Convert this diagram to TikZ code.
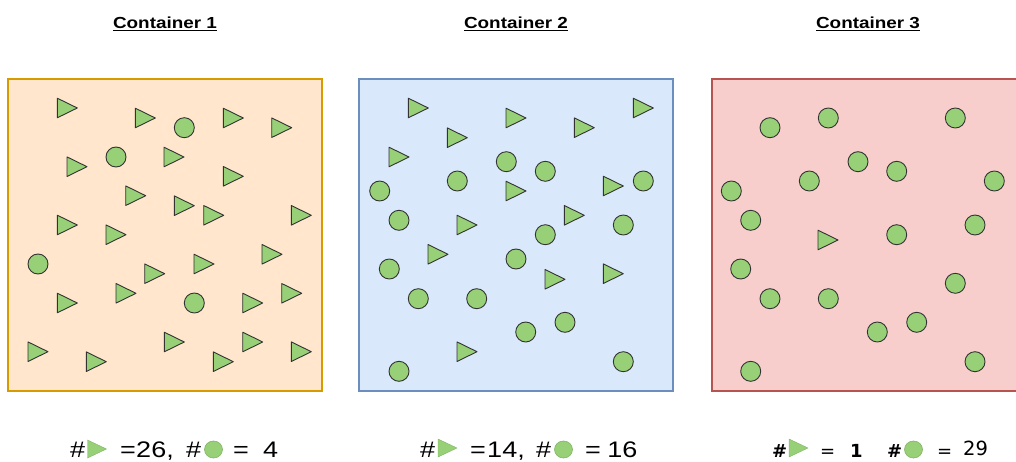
\documentclass[tikz,border=0pt]{standalone}
\usepackage{fontspec}
\usetikzlibrary{shapes.geometric}
\setmainfont{Liberation Sans}
\newfontfamily\dvsans{DejaVu Sans}
\definecolor{orfill}{HTML}{FFE6CC}
\definecolor{ordraw}{HTML}{D79B00}
\definecolor{blfill}{HTML}{DAE8FC}
\definecolor{bldraw}{HTML}{6C8EBF}
\definecolor{rdfill}{HTML}{F8CECC}
\definecolor{rddraw}{HTML}{B85450}
\definecolor{token}{HTML}{97D077}
\definecolor{tokenline}{HTML}{82B366}
\begin{document}
\begin{tikzpicture}[x=1pt,y=-1pt,
  container/.style={line width=1.3pt},
  ball/.style={circle, draw=black!80, line width=0.9pt, fill=token,
    minimum size=20pt, inner sep=0pt},
  tri/.pic={\path[draw=black!80, line width=0.9pt, fill=token, line join=round]
    (-10,-9.8) -- (10,0) -- (-10,9.8) -- cycle;},
  title/.style={font=\bfseries\fontsize{16}{18}\selectfont, anchor=base, xscale=1.18},
  lab/.style={font=\fontsize{22.5}{24}\selectfont, anchor=base west, inner sep=0pt, xscale=1.2},
  labc/.style={font=\dvsans\fontsize{18}{20}\selectfont, anchor=base west, inner sep=0pt},
  icontri/.pic={\path[fill=token, draw=tokenline, line width=0.4pt]
    (-9.5,-9) -- (9.5,0) -- (-9.5,9) -- cycle;},
  iconball/.style={ellipse, fill=token, draw=tokenline, line width=0.6pt,
    minimum width=18pt, minimum height=17pt, inner sep=0pt}
]
\useasboundingbox (0,0) rectangle (1016,462);

% containers
\begin{scope}
  \clip (0,0) rectangle (1016,462);
  \draw[container, fill=orfill, draw=ordraw] (8,79) rectangle (322,391);
  \draw[container, fill=blfill, draw=bldraw] (359,79) rectangle (673,391);
  \draw[container, fill=rdfill, draw=rddraw] (712,79) rectangle (1026,391);
\end{scope}

% titles
\node[title] (title1) at (165,28.3) {\underline{Container 1}};
\node[title] (title2) at (516,28.3) {\underline{Container 2}};
\node[title] (title3) at (868,28.3) {\underline{Container 3}};

% container 1 contents
\foreach \x/\y [count=\i] in {
  67.3/108, 145.3/118, 233.3/118, 281.7/127.7, 77/166.7, 174/157,
  233.3/176.3, 135.7/195.7, 184.3/205.7, 213.7/215.3, 301.3/215.3,
  67.3/225, 116/234.7, 272/254.3, 204/264, 154.7/273.7, 126/293.3,
  67.3/303, 252.7/303, 291.7/293.3, 38/351.7, 96.3/361.7, 174.3/342,
  252.7/342, 223.3/361.7, 301.3/351.7}
  \pic (ta\i) at (\x,\y) {tri};
\foreach \x/\y [count=\i] in {184.3/127.7, 116/157, 38/264, 194.3/303}
  \node[ball] (ba\i) at (\x,\y) {};

% container 2 contents
\foreach \x/\y [count=\i] in {
  418.3/108, 516/118, 584.3/127.7, 643.3/108, 457.3/137.7, 399/157,
  516/191, 613.3/186, 467/225, 574.3/215.3, 438/254.3, 555/279.3,
  613.3/273.7, 467/351.7}
  \pic (tb\i) at (\x,\y) {tri};
\foreach \x/\y [count=\i] in {
  506.3/161.7, 545.3/171.3, 457.3/181, 643.3/181, 379.7/191, 399/220.3,
  623.3/225, 545.3/234.7, 516/259, 389.3/269, 418.3/298.7, 476.7/298.7,
  565/322.3, 525.7/332, 623.3/361.7, 399/371.3}
  \node[ball] (bb\i) at (\x,\y) {};

% container 3 contents
\pic (tc1) at (828,240) {tri};
\foreach \x/\y [count=\i] in {
  770/127.7, 828.3/118, 955.3/118, 858/161.7, 896.7/171.3, 809.3/181,
  731.3/191, 994.3/181, 750.7/220.3, 975/225, 896.7/234.7, 740.7/269,
  955.3/283.3, 770/298.7, 828.3/298.7, 916.7/322.3, 877.3/332, 975/361.7,
  750.7/371.3}
  \node[ball] (bc\i) at (\x,\y) {};

% counts below container 1
\node[lab] (h1a) at (70,457.5) {\#};
\pic (it1) at (97,449) {icontri};
\node[lab] (e1a) at (120,457.5) {=};
\node[lab] (n1a) at (136,457.5) {26,};
\node[lab] (h1b) at (186,457.5) {\#};
\node[iconball] (ib1) at (213.5,449.5) {};
\node[lab] (e1b) at (233,457.5) {=};
\node[lab] (n1b) at (263,457.5) {4};

% counts below container 2
\node[lab] (h2a) at (420,457.5) {\#};
\pic (it2) at (447.5,448) {icontri};
\node[lab] (e2a) at (470,457.5) {=};
\node[lab] (n2a) at (487,457.5) {14,};
\node[lab] (h2b) at (536,457.5) {\#};
\node[iconball] (ib2) at (563.5,449.5) {};
\node[lab] (e2b) at (585,457.5) {=};
\node[lab] (n2b) at (607,457.5) {16};

% counts below container 3
\node[labc] (h3a) at (772,457) {\bfseries\#};
\pic (it3) at (798.5,448) {icontri};
\node[labc] (e3a) at (820,457) {=};
\node[labc] (n3a) at (850,457) {\bfseries 1};
\node[labc] (h3b) at (887,457) {\bfseries\#};
\node[iconball] (ib3) at (913.5,449.5) {};
\node[labc] (e3b) at (937,457) {=};
\node[labc, font=\dvsans\fontsize{19.5}{21}\selectfont] (n3b) at (963,455) {29};
\end{tikzpicture}
\end{document}
